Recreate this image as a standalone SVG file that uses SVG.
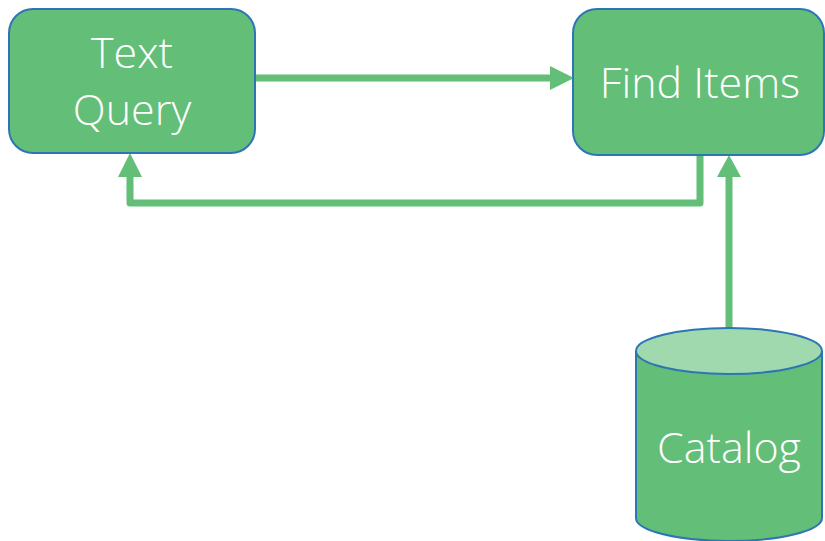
<svg xmlns="http://www.w3.org/2000/svg" width="825" height="541" viewBox="0 0 825 541">
<style>
.box{fill:#63be78;stroke:#2e75b6;stroke-width:2}
.lbl{fill:#ffffff;font-family:"Open Sans","Liberation Sans",sans-serif;font-weight:300;font-size:43px;text-anchor:middle}
.conn{fill:none;stroke:#63be78;stroke-width:7}
.head{fill:#63be78}
</style>
<rect width="825" height="541" fill="#ffffff"/>
<g id="connectors">
<line class="conn" x1="255" y1="78" x2="552" y2="78"/>
<polygon class="head" points="550,66 574,78 550,90"/>
<polyline class="conn" points="700,156 700,203 130,203 130,175" stroke-linejoin="round"/>
<polygon class="head" points="118,177 130,153 142,177"/>
<line class="conn" x1="729" y1="330" x2="729" y2="175"/>
<polygon class="head" points="717,177 729,155 741,177"/>
</g>
<g id="text-query">
<rect class="box" x="9" y="9" width="246" height="144" rx="24"/>
<text class="lbl" x="132" y="68">Text</text>
<text class="lbl" x="132" y="125">Query</text>
</g>
<g id="find-items">
<rect class="box" x="573" y="9" width="251" height="146" rx="24"/>
<text class="lbl" x="700" y="98">Find Items</text>
</g>
<g id="catalog">
<path class="box" d="M636,351 L636,518 A93,23 0 0 0 822,518 L822,351"/>
<ellipse cx="729" cy="351" rx="93" ry="23" fill="#a0d9ad" stroke="#2e75b6" stroke-width="2"/>
<text class="lbl" x="729" y="463">Catalog</text>
</g>
</svg>
